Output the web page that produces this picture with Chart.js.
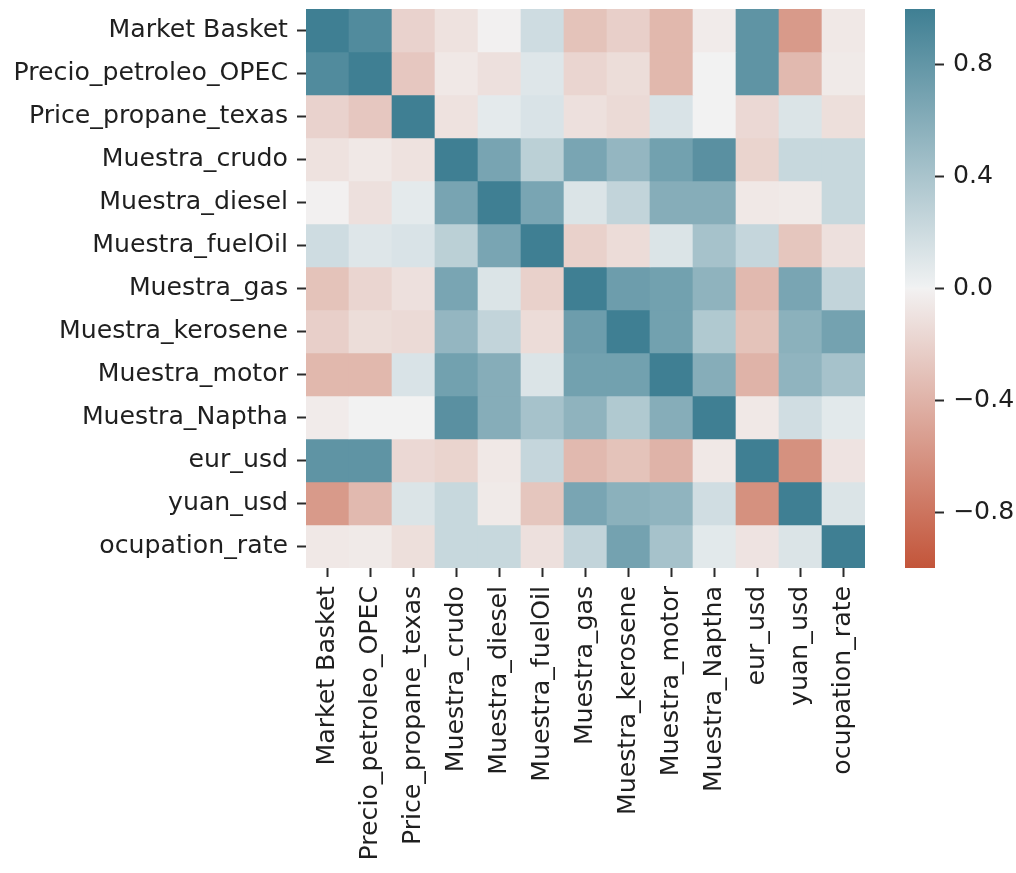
<!DOCTYPE html>
<html>
<head>
<meta charset="utf-8">
<script src="https://cdn.jsdelivr.net/npm/chart.js@4"></script>
<style>
  html, body { margin: 0; padding: 0; background: #ffffff; }
  #wrap { position: relative; width: 1016px; height: 873px; overflow: hidden; }
  canvas { position: absolute; top: 0; }
  #heat { left: 0; }
  #cbar { left: 880px; }
</style>
</head>
<body>
<div id="wrap">
  <canvas id="heat" width="880" height="873"></canvas>
  <canvas id="cbar" width="136" height="873"></canvas>
</div>
<script>
// Variables of the correlation matrix (rows top to bottom, columns left to right)
const variables = [
  'Market Basket', 'Precio_petroleo_OPEC', 'Price_propane_texas', 'Muestra_crudo',
  'Muestra_diesel', 'Muestra_fuelOil', 'Muestra_gas', 'Muestra_kerosene',
  'Muestra_motor', 'Muestra_Naptha', 'eur_usd', 'yuan_usd', 'ocupation_rate'
];

// Pairwise correlation coefficients, one row per variable
const correlations = [
  [ 1.00,  0.90, -0.20, -0.10, -0.01,  0.19, -0.30, -0.22, -0.37, -0.04,  0.82, -0.56, -0.06],
  [ 0.90,  1.00, -0.27, -0.06, -0.11,  0.10, -0.18, -0.13, -0.37,  0.00,  0.82, -0.36, -0.05],
  [-0.20, -0.27,  1.00, -0.10,  0.07,  0.13, -0.11, -0.15,  0.13,  0.00, -0.16,  0.12, -0.12],
  [-0.10, -0.06, -0.10,  1.00,  0.68,  0.30,  0.67,  0.52,  0.71,  0.85, -0.19,  0.23,  0.23],
  [-0.01, -0.11,  0.07,  0.68,  1.00,  0.67,  0.12,  0.26,  0.60,  0.60, -0.06, -0.05,  0.23],
  [ 0.19,  0.10,  0.13,  0.30,  0.67,  1.00, -0.21, -0.14,  0.12,  0.42,  0.24, -0.28, -0.11],
  [-0.30, -0.18, -0.11,  0.67,  0.12, -0.21,  1.00,  0.74,  0.71,  0.55, -0.36,  0.67,  0.26],
  [-0.22, -0.13, -0.15,  0.52,  0.26, -0.14,  0.74,  1.00,  0.71,  0.36, -0.30,  0.57,  0.70],
  [-0.37, -0.37,  0.13,  0.71,  0.60,  0.12,  0.71,  0.71,  1.00,  0.60, -0.40,  0.54,  0.42],
  [-0.04,  0.00,  0.00,  0.85,  0.60,  0.42,  0.55,  0.36,  0.60,  1.00, -0.06,  0.18,  0.08],
  [ 0.82,  0.82, -0.16, -0.19, -0.06,  0.24, -0.36, -0.30, -0.40, -0.06,  1.00, -0.62, -0.09],
  [-0.56, -0.36,  0.12,  0.23, -0.05, -0.28,  0.67,  0.57,  0.54,  0.18, -0.62,  1.00,  0.12],
  [-0.06, -0.05, -0.12,  0.23,  0.23, -0.11,  0.26,  0.70,  0.42,  0.08, -0.09,  0.12,  1.00]
];

// Colour bar range and tick values
const colorRange = [-1, 1];
const colorbarTicks = [-0.8, -0.4, 0.0, 0.4, 0.8];

// ---- HUSL -> sRGB conversion used to build the diverging palette ----
const M = [
  [ 3.240969941904521, -1.537383177570093, -0.498610760293   ],
  [-0.96924363628087,   1.87596750150772,   0.041555057407175],
  [ 0.055630079696993, -0.20397695888897,   1.056971514242878]
];
const KAPPA = 903.2962962, EPS = 0.0088564516;
function hueBounds(L) {
  const sub1 = Math.pow(L + 16, 3) / 1560896;
  const sub2 = sub1 > EPS ? sub1 : L / KAPPA;
  const out = [];
  for (const [m1, m2, m3] of M) {
    for (const t of [0, 1]) {
      const top1 = (284517 * m1 - 94839 * m3) * sub2;
      const top2 = (838422 * m3 + 769860 * m2 + 731718 * m1) * L * sub2 - 769860 * t * L;
      const bottom = (632260 * m3 - 126452 * m2) * sub2 + 126452 * t;
      out.push([top1 / bottom, top2 / bottom]);
    }
  }
  return out;
}
function maxChroma(L, H) {
  const hr = H / 360 * 2 * Math.PI;
  let best = Infinity;
  for (const [slope, icpt] of hueBounds(L)) {
    const len = icpt / (Math.sin(hr) - slope * Math.cos(hr));
    if (len >= 0) best = Math.min(best, len);
  }
  return best;
}
function husl(H, S, L) {
  if (L > 99.9999) return [1, 1, 1];
  if (L < 1e-8) return [0, 0, 0];
  const C = maxChroma(L, H) / 100 * S;
  const hr = H / 180 * Math.PI;
  const U = Math.cos(hr) * C, V = Math.sin(hr) * C;
  const refU = 0.19783000664283, refV = 0.46831999493879;
  const Y = L <= 8 ? L / KAPPA : Math.pow((L + 16) / 116, 3);
  const vu = U / (13 * L) + refU, vv = V / (13 * L) + refV;
  const X = 0 - (9 * Y * vu) / ((vu - 4) * vv - vu * vv);
  const Z = (9 * Y - 15 * vv * Y - vv * X) / (3 * vv);
  return M.map(r => {
    const c = r[0] * X + r[1] * Y + r[2] * Z;
    const g = c <= 0.0031308 ? 12.92 * c : 1.055 * Math.pow(c, 1 / 2.4) - 0.055;
    return Math.min(1, Math.max(0, g));
  });
}

// Diverging palette: red (hue 20) for negative, teal-blue (hue 220) for positive
const NEG = husl(20, 75, 50), NEG_LIGHT = husl(20, 11.25, 95);
const POS = husl(220, 75, 50), POS_LIGHT = husl(220, 11.25, 95);
const MID = [0.95, 0.95, 0.95];
const paletteStops = [
  [0, NEG], [127 / 256, NEG_LIGHT], [128 / 256, MID], [129 / 256, POS_LIGHT], [1, POS]
];
function toCss(rgb) {
  return 'rgb(' + rgb.map(c => Math.round(c * 255)).join(',') + ')';
}
function corrColor(v) {
  let t = (v - colorRange[0]) / (colorRange[1] - colorRange[0]);
  t = Math.min(1, Math.max(0, t));
  for (let i = 1; i < paletteStops.length; i++) {
    const [t0, c0] = paletteStops[i - 1], [t1, c1] = paletteStops[i];
    if (t <= t1) {
      const f = (t - t0) / (t1 - t0);
      return toCss(c0.map((c, k) => c + (c1[k] - c) * f));
    }
  }
  return toCss(POS);
}

// ---- shared styling ----
const tickFont = { family: "'DejaVu Sans', sans-serif", size: 25.2 };
const textColor = '#1f1f1f';
const tickMarkColor = '#2b2b2b';
const tickGrid = {
  display: true, drawOnChartArea: false, drawTicks: true,
  tickLength: 9, tickWidth: 2, tickColor: tickMarkColor, offset: false
};

// ---- heatmap: one floating-bar dataset per matrix row ----
new Chart(document.getElementById('heat'), {
  type: 'bar',
  data: {
    labels: variables,
    datasets: variables.map((name, r) => ({
      label: name,
      data: variables.map(() => [r, r + 1]),
      backgroundColor: correlations[r].map(corrColor),
      borderWidth: 0,
      grouped: false,
      barPercentage: 1,
      categoryPercentage: 1
    }))
  },
  options: {
    responsive: false,
    animation: false,
    events: [],
    layout: { padding: { top: 9, right: 15, bottom: 0, left: 0 } },
    plugins: { legend: { display: false }, tooltip: { enabled: false } },
    scales: {
      x: {
        type: 'category',
        offset: true,
        grid: tickGrid,
        border: { display: false },
        ticks: {
          minRotation: 90, maxRotation: 90, autoSkip: false,
          padding: 9, font: tickFont, color: textColor
        },
        afterFit: s => { s.height = 305; s.paddingLeft = 0; s.paddingRight = 0; }
      },
      y: {
        type: 'linear',
        reverse: true,
        min: 0,
        max: variables.length,
        grid: tickGrid,
        border: { display: false },
        ticks: {
          autoSkip: false, padding: 9, font: tickFont, color: textColor,
          callback: (v, i) => variables[i]
        },
        afterBuildTicks: s => { s.ticks = variables.map((_, i) => ({ value: i + 0.5 })); },
        afterFit: s => { s.width = 306; s.paddingTop = 0; s.paddingBottom = 0; }
      }
    }
  }
});

// ---- colour bar ----
function formatTick(v) {
  if (Math.abs(v) < 1e-9) return '0.0';
  return (v < 0 ? '\u2212' : '') + Math.abs(v).toFixed(1);
}
new Chart(document.getElementById('cbar'), {
  type: 'bar',
  data: {
    labels: [''],
    datasets: [{
      data: [[colorRange[0], colorRange[1]]],
      backgroundColor: ctx => {
        const chart = ctx.chart;
        const ys = chart.scales.y;
        if (!chart.chartArea || !ys) return toCss(MID);
        const g = chart.ctx.createLinearGradient(
          0, ys.getPixelForValue(colorRange[0]), 0, ys.getPixelForValue(colorRange[1]));
        paletteStops.forEach(([t, c]) => g.addColorStop(t, toCss(c)));
        return g;
      },
      borderWidth: 0,
      barPercentage: 1,
      categoryPercentage: 1
    }]
  },
  options: {
    responsive: false,
    animation: false,
    events: [],
    layout: { padding: { top: 9, right: 0, bottom: 305, left: 25 } },
    plugins: { legend: { display: false }, tooltip: { enabled: false } },
    scales: {
      x: { display: false },
      y: {
        type: 'linear',
        position: 'right',
        min: colorRange[0],
        max: colorRange[1],
        grid: tickGrid,
        border: { display: false },
        ticks: { padding: 9, font: tickFont, color: textColor, callback: v => formatTick(v) },
        afterBuildTicks: s => { s.ticks = colorbarTicks.map(v => ({ value: v })); },
        afterFit: s => { s.width = 81; s.paddingTop = 0; s.paddingBottom = 0; }
      }
    }
  }
});
</script>
</body>
</html>
